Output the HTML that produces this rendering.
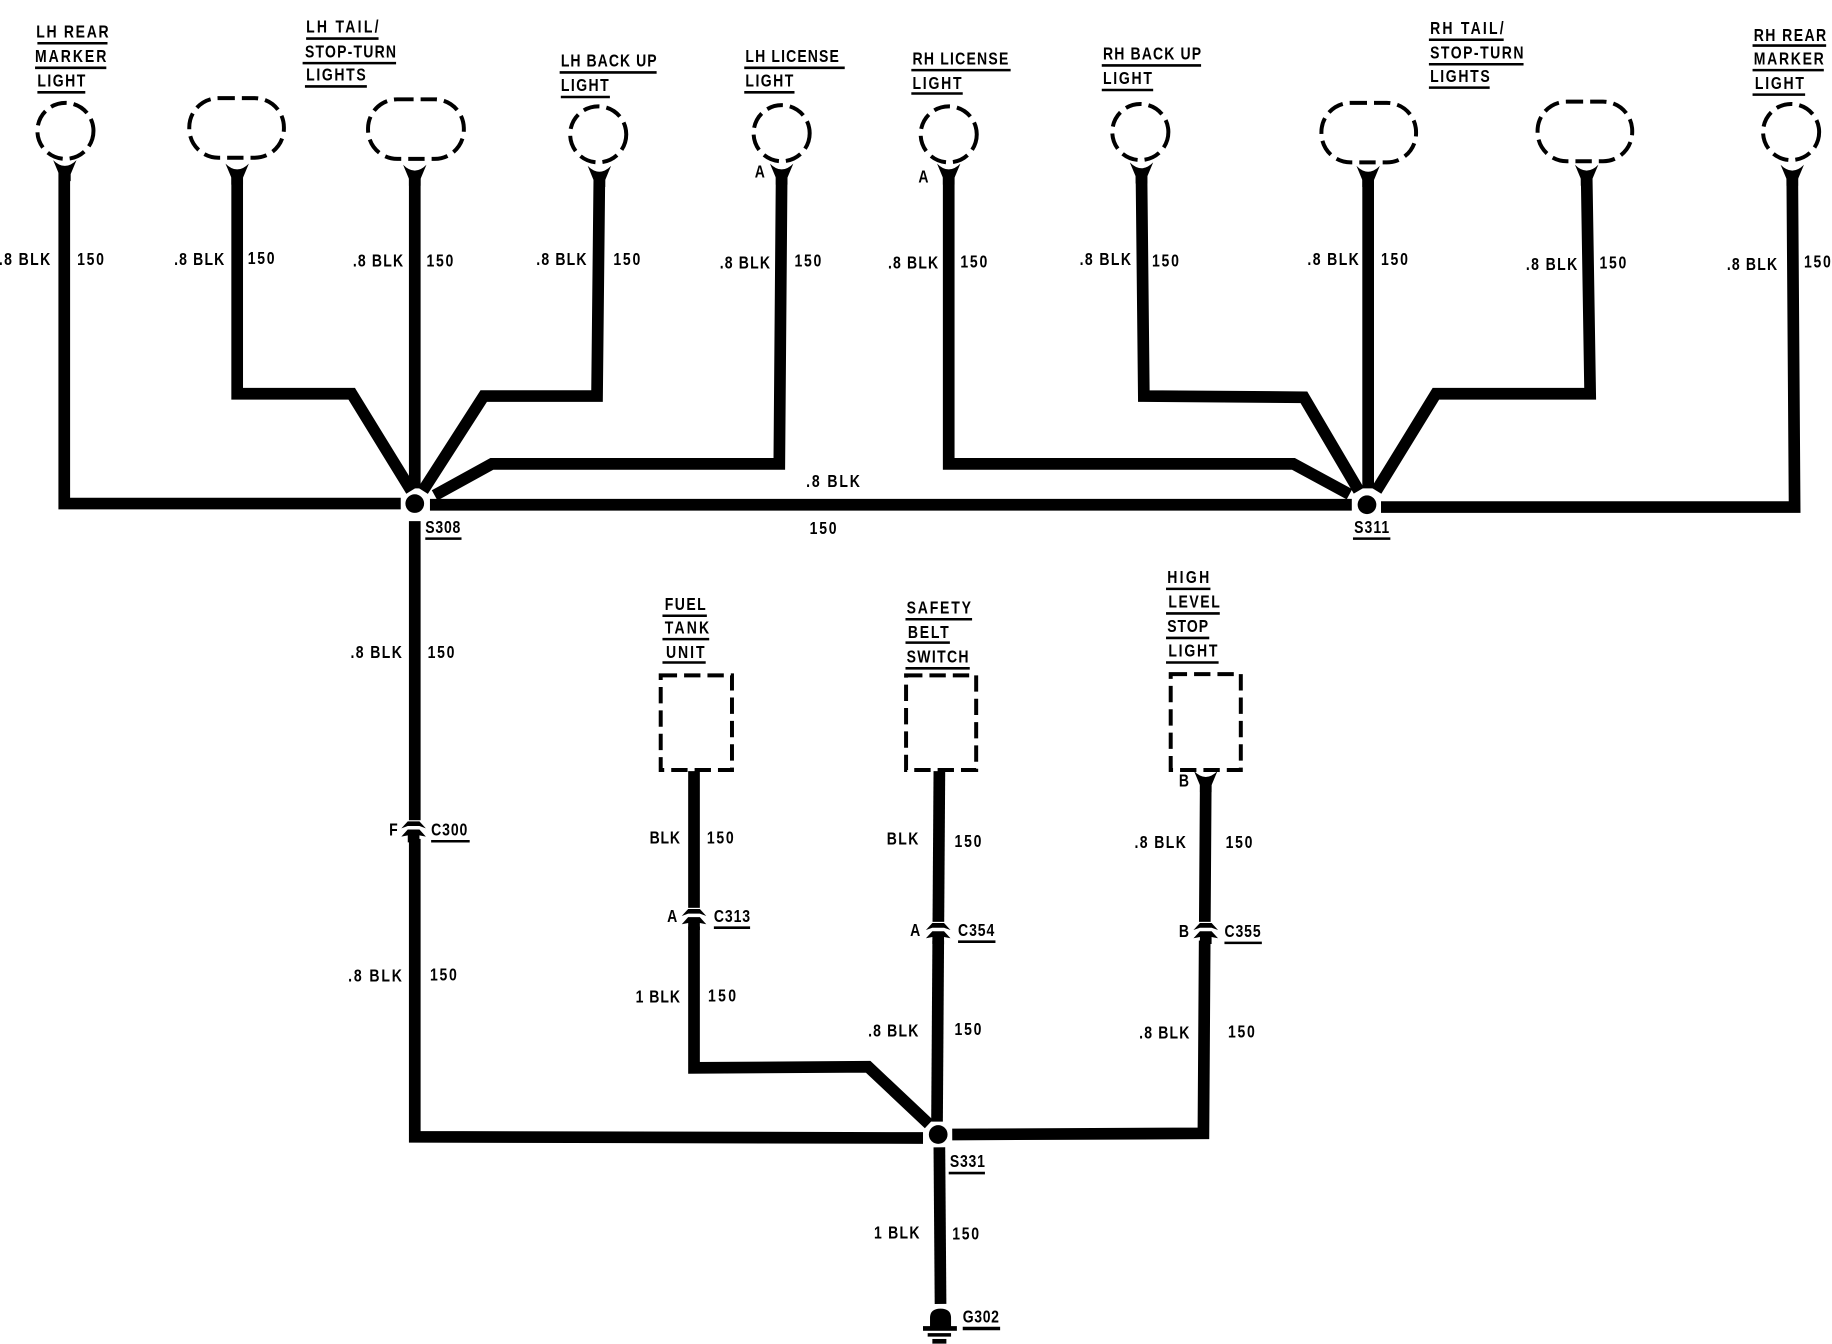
<!DOCTYPE html>
<html><head><meta charset="utf-8"><style>
html,body{margin:0;padding:0;background:#fff}
svg{display:block}
text{font-family:"Liberation Sans",sans-serif;font-weight:700;font-size:15px;fill:#000}
.w{fill:none;stroke:#000;stroke-width:10;stroke-linejoin:miter}
.d{fill:none;stroke:#000;stroke-width:3.4;stroke-dasharray:14 6}
.u{stroke:#000;stroke-width:2.2}
</style></head><body>
<svg width="1832" height="1344" viewBox="0 0 1568 1150.3" xmlns="http://www.w3.org/2000/svg">
<defs>
<path id="fork" d="M-10,-8 Q0,2 10,-8 L5,4 L5,10 L-5,10 L-5,4 Z"/>
<g id="conn"><path d="M-10.5,0 L-5,-6 L5,-6 L10.5,0 L5,-2 L-5,-2 Z"/><path d="M-10.5,7 L-5,1 L5,1 L10.5,7 L5,6 L5,12 L-5,12 L-5,6 Z"/></g>
</defs>

<!-- lights -->
<circle class="d" cx="56" cy="112" r="24"/>
<rect class="d" x="162" y="84" width="81" height="51" rx="25" ry="25"/>
<rect class="d" x="315" y="85" width="82" height="51" rx="25" ry="25"/>
<circle class="d" cx="512" cy="115" r="24"/>
<circle class="d" cx="669" cy="114" r="24"/>
<circle class="d" cx="812" cy="115" r="24"/>
<circle class="d" cx="976" cy="113" r="24"/>
<rect class="d" x="1131" y="88" width="81" height="51" rx="25" ry="25"/>
<rect class="d" x="1316" y="87" width="81" height="51" rx="25" ry="25"/>
<circle class="d" cx="1533" cy="113" r="24"/>
<rect class="d" x="565.5" y="578" width="61" height="81"/>
<rect class="d" x="775.5" y="578" width="60" height="81"/>
<rect class="d" x="1002" y="577" width="60" height="82"/>

<!-- wires -->
<path class="w" d="M55,146V431H343"/>
<path class="w" d="M203,150V337H301L352,420"/>
<path class="w" d="M355,150V418"/>
<path class="w" d="M513,150L511,339H414L362,420"/>
<path class="w" d="M669,150L667,397H421L372,424"/>
<path class="w" d="M368,432H1157"/>
<path class="w" d="M355,446V973L790,974"/>
<path class="w" d="M812,150V397H1107L1155,423"/>
<path class="w" d="M977,150L979,339L1116,340L1163,420"/>
<path class="w" d="M1171,150V418"/>
<path class="w" d="M1358,150L1361,337H1229L1178,420"/>
<path class="w" d="M1534,150L1536,434H1182"/>
<path class="w" d="M594,660V914L743,913L795,962"/>
<path class="w" d="M804,660L802,960"/>
<path class="w" d="M1032,668L1030,970L815,971"/>
<path class="w" d="M804,982L805,1116"/>

<!-- splices -->
<circle cx="355" cy="431" r="8"/>
<circle cx="1170" cy="432" r="8"/>
<circle cx="803" cy="971" r="8"/>

<!-- forks -->
<use href="#fork" x="55.5" y="145"/>
<use href="#fork" x="203" y="148"/>
<use href="#fork" x="355" y="149"/>
<use href="#fork" x="513" y="150"/>
<use href="#fork" x="669" y="148"/>
<use href="#fork" x="812" y="148"/>
<use href="#fork" x="977" y="147"/>
<use href="#fork" x="1171" y="150"/>
<use href="#fork" x="1358" y="149"/>
<use href="#fork" x="1534" y="149"/>
<use href="#fork" x="1032" y="668"/>

<!-- connectors -->
<rect x="344" y="702" width="22" height="16" fill="#fff"/>
<use href="#conn" x="354" y="709"/>
<rect x="584" y="777" width="22" height="16" fill="#fff"/>
<use href="#conn" x="594" y="784"/>
<rect x="793" y="789" width="22" height="16" fill="#fff"/>
<use href="#conn" x="803" y="796"/>
<rect x="1022" y="789" width="22" height="16" fill="#fff"/>
<use href="#conn" x="1032" y="796"/>

<!-- ground -->
<path d="M796,1136V1128Q796,1120 805,1120Q814,1120 814,1128V1136Z"/>
<rect x="790" y="1135" width="29" height="4"/>
<rect x="794" y="1141" width="20" height="3"/>
<rect x="798" y="1146" width="12" height="4"/>

<!-- titles -->
<text transform="translate(31 32) scale(.8 1)" textLength="77.5">LH REAR</text><line class="u" x1="32" x2="92" y1="37" y2="37"/>
<text transform="translate(30 53) scale(.8 1)" textLength="76.25">MARKER</text><line class="u" x1="30" x2="91" y1="58" y2="58"/>
<text transform="translate(32 74) scale(.8 1)" textLength="51.25">LIGHT</text><line class="u" x1="32" x2="73" y1="79" y2="79"/>
<text transform="translate(262 28) scale(.8 1)" textLength="77.5">LH TAIL/</text><line class="u" x1="262" x2="324" y1="33" y2="33"/>
<text transform="translate(261 49) scale(.8 1)" textLength="97.5">STOP-TURN</text><line class="u" x1="259" x2="339" y1="54" y2="54"/>
<text transform="translate(262 69) scale(.8 1)" textLength="63.75">LIGHTS</text><line class="u" x1="261" x2="314" y1="74" y2="74"/>
<text transform="translate(480 57) scale(.8 1)" textLength="102.5">LH BACK UP</text><line class="u" x1="479" x2="562" y1="62" y2="62"/>
<text transform="translate(480 78) scale(.8 1)" textLength="51.25">LIGHT</text><line class="u" x1="480" x2="522" y1="83" y2="83"/>
<text transform="translate(638 53) scale(.8 1)" textLength="100">LH LICENSE</text><line class="u" x1="637" x2="723" y1="58" y2="58"/>
<text transform="translate(638 74) scale(.8 1)" textLength="51.25">LIGHT</text><line class="u" x1="637" x2="680" y1="79" y2="79"/>
<text transform="translate(781 55) scale(.8 1)" textLength="102.5">RH LICENSE</text><line class="u" x1="780" x2="865" y1="60" y2="60"/>
<text transform="translate(781 76) scale(.8 1)" textLength="52.5">LIGHT</text><line class="u" x1="780" x2="824" y1="80" y2="80"/>
<text transform="translate(944 51) scale(.8 1)" textLength="105">RH BACK UP</text><line class="u" x1="943" x2="1028" y1="56" y2="56"/>
<text transform="translate(944 72) scale(.8 1)" textLength="52.5">LIGHT</text><line class="u" x1="943" x2="987" y1="77" y2="77"/>
<text transform="translate(1224 29) scale(.8 1)" textLength="78.75">RH TAIL/</text><line class="u" x1="1223" x2="1287" y1="34" y2="34"/>
<text transform="translate(1224 50) scale(.8 1)" textLength="100">STOP-TURN</text><line class="u" x1="1223" x2="1304" y1="55" y2="55"/>
<text transform="translate(1224 70) scale(.8 1)" textLength="63.75">LIGHTS</text><line class="u" x1="1223" x2="1275" y1="75" y2="75"/>
<text transform="translate(1501 35) scale(.8 1)" textLength="77.5">RH REAR</text><line class="u" x1="1500" x2="1563" y1="39" y2="39"/>
<text transform="translate(1501 55) scale(.8 1)" textLength="75">MARKER</text><line class="u" x1="1500" x2="1561" y1="60" y2="60"/>
<text transform="translate(1502 76) scale(.8 1)" textLength="52.5">LIGHT</text><line class="u" x1="1500" x2="1545" y1="81" y2="81"/>
<text transform="translate(569 522) scale(.8 1)" textLength="43.75">FUEL</text><line class="u" x1="567" x2="605" y1="527" y2="527"/>
<text transform="translate(569 542) scale(.8 1)" textLength="47.5">TANK</text><line class="u" x1="567" x2="607" y1="547" y2="547"/>
<text transform="translate(570 563) scale(.8 1)" textLength="41.25">UNIT</text><line class="u" x1="567" x2="604" y1="567" y2="567"/>
<text transform="translate(776 525) scale(.8 1)" textLength="68.75">SAFETY</text><line class="u" x1="775" x2="832" y1="530" y2="530"/>
<text transform="translate(777 546) scale(.8 1)" textLength="43.75">BELT</text><line class="u" x1="775" x2="813" y1="550" y2="550"/>
<text transform="translate(776 567) scale(.8 1)" textLength="66.25">SWITCH</text><line class="u" x1="775" x2="830" y1="572" y2="572"/>
<text transform="translate(999 499) scale(.8 1)" textLength="45">HIGH</text><line class="u" x1="998" x2="1036" y1="504" y2="504"/>
<text transform="translate(1000 520) scale(.8 1)" textLength="55">LEVEL</text><line class="u" x1="998" x2="1044" y1="525" y2="525"/>
<text transform="translate(999 541) scale(.8 1)" textLength="43.75">STOP</text><line class="u" x1="998" x2="1035" y1="546" y2="546"/>
<text transform="translate(1000 562) scale(.8 1)" textLength="52.5">LIGHT</text><line class="u" x1="998" x2="1043" y1="567" y2="567"/>

<!-- wire labels -->
<text transform="translate(-1 227) scale(.8 1)" textLength="55">.8 BLK</text><text transform="translate(66 227) scale(.8 1)" textLength="28.75">150</text>
<text transform="translate(149 227) scale(.8 1)" textLength="53.75">.8 BLK</text><text transform="translate(212 226) scale(.8 1)" textLength="28.75">150</text>
<text transform="translate(302 228) scale(.8 1)" textLength="53.75">.8 BLK</text><text transform="translate(365 228) scale(.8 1)" textLength="28.75">150</text>
<text transform="translate(459 227) scale(.8 1)" textLength="53.75">.8 BLK</text><text transform="translate(525 227) scale(.8 1)" textLength="28.75">150</text>
<text transform="translate(616 230) scale(.8 1)" textLength="53.75">.8 BLK</text><text transform="translate(680 228) scale(.8 1)" textLength="28.75">150</text>
<text transform="translate(760 230) scale(.8 1)" textLength="53.75">.8 BLK</text><text transform="translate(822 229) scale(.8 1)" textLength="28.75">150</text>
<text transform="translate(924 227) scale(.8 1)" textLength="55">.8 BLK</text><text transform="translate(986 228) scale(.8 1)" textLength="28.75">150</text>
<text transform="translate(1119 227) scale(.8 1)" textLength="55">.8 BLK</text><text transform="translate(1182 227) scale(.8 1)" textLength="28.75">150</text>
<text transform="translate(1306 231) scale(.8 1)" textLength="55">.8 BLK</text><text transform="translate(1369 230) scale(.8 1)" textLength="28.75">150</text>
<text transform="translate(1478 231) scale(.8 1)" textLength="53.75">.8 BLK</text><text transform="translate(1544 229) scale(.8 1)" textLength="28.75">150</text>
<text transform="translate(690 417) scale(.8 1)" textLength="57.5">.8 BLK</text><text transform="translate(693 457) scale(.8 1)" textLength="28.75">150</text>
<text transform="translate(300 563) scale(.8 1)" textLength="55">.8 BLK</text><text transform="translate(366 563) scale(.8 1)" textLength="28.75">150</text>
<text transform="translate(298 840) scale(.8 1)" textLength="57.5">.8 BLK</text><text transform="translate(368 839) scale(.8 1)" textLength="28.75">150</text>
<text transform="translate(556 722) scale(.8 1)" textLength="32.5">BLK</text><text transform="translate(605 722) scale(.8 1)" textLength="28.75">150</text>
<text transform="translate(759 723) scale(.8 1)" textLength="33.75">BLK</text><text transform="translate(817 725) scale(.8 1)" textLength="28.75">150</text>
<text transform="translate(971 726) scale(.8 1)" textLength="55">.8 BLK</text><text transform="translate(1049 726) scale(.8 1)" textLength="28.75">150</text>
<text transform="translate(544 858) scale(.8 1)" textLength="47.5">1 BLK</text><text transform="translate(606 857) scale(.8 1)" textLength="30">150</text>
<text transform="translate(743 887) scale(.8 1)" textLength="53.75">.8 BLK</text><text transform="translate(817 886) scale(.8 1)" textLength="28.75">150</text>
<text transform="translate(975 889) scale(.8 1)" textLength="53.75">.8 BLK</text><text transform="translate(1051 888) scale(.8 1)" textLength="28.75">150</text>
<text transform="translate(748 1060) scale(.8 1)" textLength="48.75">1 BLK</text><text transform="translate(815 1061) scale(.8 1)" textLength="28.75">150</text>

<!-- connector / splice labels -->
<text transform="translate(333 715) scale(.8 1)">F</text>
<text transform="translate(369 715) scale(.8 1)" textLength="38.75">C300</text><line class="u" x1="369" x2="402" y1="720" y2="720"/>
<text transform="translate(571 789) scale(.8 1)">A</text>
<text transform="translate(611 789) scale(.8 1)" textLength="38.75">C313</text><line class="u" x1="611" x2="642" y1="794" y2="794"/>
<text transform="translate(779 801) scale(.8 1)">A</text>
<text transform="translate(820 801) scale(.8 1)" textLength="38.75">C354</text><line class="u" x1="820" x2="852" y1="806" y2="806"/>
<text transform="translate(1009 802) scale(.8 1)">B</text>
<text transform="translate(1048 802) scale(.8 1)" textLength="38.75">C355</text><line class="u" x1="1048" x2="1080" y1="807" y2="807"/>
<text transform="translate(1009 673) scale(.8 1)">B</text>
<text transform="translate(646 152) scale(.8 1)">A</text>
<text transform="translate(786 156) scale(.8 1)">A</text>
<text transform="translate(364 456) scale(.8 1)" textLength="37.5">S308</text><line class="u" x1="364" x2="395" y1="461" y2="461"/>
<text transform="translate(1159 456) scale(.8 1)" textLength="37.5">S311</text><line class="u" x1="1158" x2="1190" y1="461" y2="461"/>
<text transform="translate(813 999) scale(.8 1)" textLength="37.5">S331</text><line class="u" x1="812" x2="843" y1="1004" y2="1004"/>
<text transform="translate(824 1132) scale(.8 1)" textLength="38.75">G302</text><line class="u" x1="824" x2="856" y1="1137" y2="1137" style="stroke-width:3"/>
</svg>
</body></html>
